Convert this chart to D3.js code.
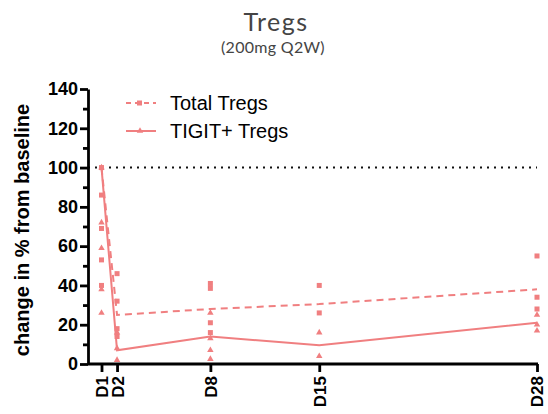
<!DOCTYPE html>
<html>
<head>
<meta charset="utf-8">
<script src="https://cdn.jsdelivr.net/npm/d3@7"></script>
<style>
  body { margin: 0; background: #fff; }
  svg { display: block; }
</style>
</head>
<body>
<svg width="548" height="414"></svg>
<script>
// chart values
const days = [0, 1, 7, 14, 28]
const dayLabels = ['D1', 'D2', 'D8', 'D15', 'D28']
const totalMean = [100, 25, 28, 30.5, 38]
const tigitMean = [100, 7, 14, 9.5, 21]
// individual patients, [day, value]
const totalPoints = [
  [0, 100], [0, 86], [0, 69], [0, 53], [0, 40],
  [1, 46], [1, 32], [1, 18], [1, 14],
  [7, 41], [7, 38.5], [7, 21], [7, 16],
  [14, 40], [14, 26],
  [28, 55], [28, 34], [28, 28]
]
const tigitPoints = [
  [0, 100], [0, 72], [0, 59], [0, 38], [0, 26],
  [1, 16], [1, 8], [1, 2],
  [7, 26], [7, 13], [7, 7], [7, 2.5],
  [14, 16], [14, 4],
  [28, 25], [28, 20], [28, 17]
]
const yTicks = [0, 20, 40, 60, 80, 100, 120, 140]
const yMinor = [10, 30, 50, 70, 90, 110, 130]

const pink = '#f07f80'
const svg = d3.select('svg')

const x = d3.scaleLinear().domain([0, 28]).range([101.5, 537])
const y = d3.scaleLinear().domain([0, 140]).range([364, 89])

// titles
svg.append('text')
  .attr('x', 276).attr('y', 31)
  .attr('text-anchor', 'middle')
  .style('font-family', 'Lato, "Open Sans", sans-serif')
  .style('font-size', '25px')
  .style('letter-spacing', '1.5px')
  .attr('fill', '#444')
  .text('Tregs')
svg.append('text')
  .attr('x', 273).attr('y', 53)
  .attr('text-anchor', 'middle')
  .style('font-family', 'Lato, "Open Sans", sans-serif')
  .style('font-size', '16px')
  .style('letter-spacing', '0.3px')
  .attr('fill', '#444')
  .text('(200mg Q2W)')

// baseline dotted line
svg.append('line')
  .attr('x1', 88).attr('x2', 537)
  .attr('y1', y(100)).attr('y2', y(100))
  .attr('stroke', '#111')
  .attr('stroke-width', 2)
  .attr('stroke-dasharray', '2,5')

// y axis
const yAxis = svg.append('g')
  .attr('transform', 'translate(88,0)')
  .call(d3.axisLeft(y).tickValues(yTicks).tickSize(8).tickSizeOuter(0).tickPadding(2))
yAxis.append('g')
  .call(d3.axisLeft(y).tickValues(yMinor).tickSize(5).tickFormat(''))
  .select('.domain').remove()

// x axis
const xAxis = svg.append('g')
  .attr('transform', 'translate(0,364)')
  .call(d3.axisBottom(x).tickValues(days).tickSize(8).tickSizeOuter(0)
    .tickFormat((d, i) => dayLabels[i]))
xAxis.select('.domain').attr('d', 'M88,0H538')

svg.selectAll('.domain, .tick line')
  .attr('stroke', '#000')
  .attr('stroke-width', 2.8)
yAxis.selectAll('.tick text')
  .style('font-size', '18px')
xAxis.selectAll('.tick text')
  .style('font-size', '17px')
  .attr('transform', 'rotate(-90)')
  .attr('text-anchor', 'end')
  .attr('x', -12).attr('y', 0).attr('dy', '0.35em')
svg.selectAll('.tick text')
  .style('font-family', '"Liberation Sans", Arial, sans-serif')
  .style('font-weight', 'bold')
  .attr('fill', '#000')

// y label
svg.append('text')
  .attr('transform', 'translate(29,230) rotate(-90)')
  .attr('text-anchor', 'middle')
  .style('font-family', '"Liberation Sans", Arial, sans-serif')
  .style('font-weight', 'bold')
  .style('font-size', '20px')
  .text('change in % from baseline')

// individual points
svg.append('g').selectAll('rect')
  .data(totalPoints)
  .join('rect')
    .attr('x', d => x(d[0]) - 2.5)
    .attr('y', d => y(d[1]) - 2.5)
    .attr('width', 5).attr('height', 5)
    .attr('fill', pink)

const tri = d3.symbol().type(d3.symbolTriangle).size(18)
svg.append('g').selectAll('path')
  .data(tigitPoints)
  .join('path')
    .attr('transform', d => `translate(${x(d[0])},${y(d[1])})`)
    .attr('d', tri)
    .attr('fill', pink)

// mean lines
const line = d3.line().x((d, i) => x(days[i])).y(d => y(d))
svg.append('path')
  .datum(totalMean)
  .attr('d', line)
  .attr('fill', 'none')
  .attr('stroke', pink)
  .attr('stroke-width', 2)
  .attr('stroke-dasharray', '7,5')
svg.append('path')
  .datum(tigitMean)
  .attr('d', line)
  .attr('fill', 'none')
  .attr('stroke', pink)
  .attr('stroke-width', 2)

// legend
const legend = svg.append('g')
legend.append('line')
  .attr('x1', 126).attr('x2', 156).attr('y1', 103).attr('y2', 103)
  .attr('stroke', pink).attr('stroke-width', 2).attr('stroke-dasharray', '5,4')
legend.append('rect')
  .attr('x', 137).attr('y', 100.5).attr('width', 5).attr('height', 5).attr('fill', pink)
legend.append('text')
  .attr('x', 170).attr('y', 110)
  .style('font-family', '"Liberation Sans", Arial, sans-serif')
  .style('font-size', '20px')
  .text('Total Tregs')
legend.append('line')
  .attr('x1', 126).attr('x2', 156).attr('y1', 131).attr('y2', 131)
  .attr('stroke', pink).attr('stroke-width', 2)
legend.append('path')
  .attr('transform', 'translate(140,131)')
  .attr('d', tri)
  .attr('fill', pink)
legend.append('text')
  .attr('x', 170).attr('y', 138)
  .style('font-family', '"Liberation Sans", Arial, sans-serif')
  .style('font-size', '20px')
  .text('TIGIT+ Tregs')
</script>
</body>
</html>
